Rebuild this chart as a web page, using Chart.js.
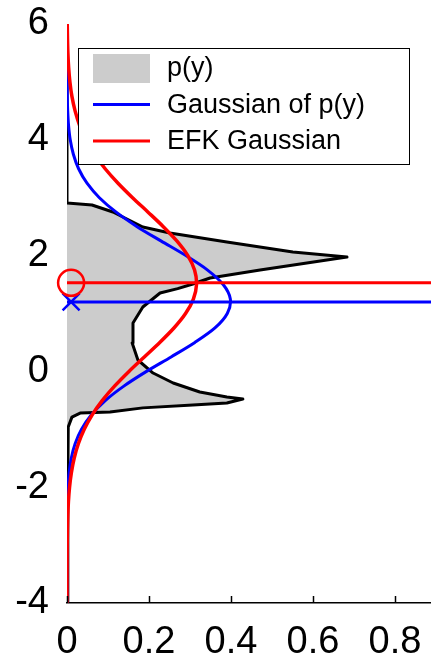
<!DOCTYPE html>
<html>
<head>
<meta charset="utf-8">
<script src="https://cdn.jsdelivr.net/npm/chart.js@4.4.1/dist/chart.umd.min.js"></script>
<style>
  html, body { margin: 0; padding: 0; background: #fff; }
  #wrap { width: 431px; height: 663px; }
</style>
</head>
<body>
<div id="wrap"><canvas id="densityChart"></canvas></div>
<script>
// y values where the gaussians were sampled
const yGrid = [-4, -3.75, -3.5, -3.25, -3, -2.75, -2.5, -2.25, -2, -1.75, -1.5, -1.25, -1, -0.75, -0.5, -0.25,
  0, 0.25, 0.5, 0.75, 1, 1.25, 1.5, 1.75, 2, 2.25, 2.5, 2.75, 3, 3.25, 3.5, 3.75, 4, 4.25, 4.5, 4.75, 5, 5.25, 5.5, 5.75, 6];

// blue: Gaussian of p(y)
const gaussOfP = [0, 0, 0, 0.00002, 0.00006, 0.00016, 0.0004, 0.001, 0.0024, 0.0051, 0.0104, 0.0198, 0.0355, 0.0596, 0.094, 0.1395,
  0.194, 0.254, 0.312, 0.361, 0.391, 0.3985, 0.381, 0.343, 0.29, 0.23, 0.171, 0.12, 0.079, 0.0488, 0.0283, 0.0155, 0.0079, 0.0038, 0.0017, 0.0007, 0.0003, 0.0001, 0, 0, 0];

// red: EFK Gaussian
const gaussEFK = [0.00002, 0.00005, 0.00011, 0.00024, 0.00049, 0.001, 0.0019, 0.0035, 0.0062, 0.0107, 0.0175, 0.0277, 0.0421, 0.0615, 0.0863, 0.1165,
  0.1512, 0.1886, 0.2263, 0.2609, 0.2892, 0.3083, 0.316, 0.3112, 0.2948, 0.2684, 0.2349, 0.1978, 0.1599, 0.1245, 0.0931, 0.0669, 0.0463, 0.0307, 0.0197, 0.012, 0.0071, 0.004, 0.0022, 0.0012, 0.0006];

// p(y) outline, bottom to top
const pY = [-4, -2, -0.96, -0.79, -0.72, -0.7, -0.63, -0.58, -0.546, -0.477, -0.442, -0.356, -0.2, -0.028, 0.197, 0.491, 0.836, 1.112, 1.354,
  1.43, 1.51, 1.613, 1.751, 1.924, 1.976, 2.062, 2.235, 2.39, 2.494, 2.753, 2.874, 2.908, 6];
const pX = [0, 0.002, 0.003, 0.012, 0.032, 0.105, 0.185, 0.307, 0.39, 0.429, 0.39, 0.324, 0.259, 0.21, 0.173, 0.159, 0.161, 0.185, 0.227,
  0.27, 0.307, 0.349, 0.471, 0.634, 0.683, 0.551, 0.39, 0.251, 0.185, 0.112, 0.061, 0, 0];

// means (horizontal lines + markers)
const meanP = 1.2;
const meanEFK = 1.53;
const markerX = 0.01;

const xMin = 0, xMax = 0.888;
const yMin = -4, yMax = 6;

const legendItems = ['p(y)', 'Gaussian of p(y)', 'EFK Gaussian'];

const FONT = '"Liberation Sans", Arial, Helvetica, sans-serif';

function zip(xs, ys) {
  return xs.map((x, i) => ({ x: x, y: ys[i] }));
}

// kleine Ticks nach innen auf der x-Achse
const innerTicks = {
  id: 'innerTicks',
  afterDraw(chart) {
    const ctx = chart.ctx;
    const xs = chart.scales.x;
    const bottom = chart.chartArea.bottom;
    ctx.save();
    ctx.strokeStyle = '#000';
    ctx.lineWidth = 1.5;
    xs.ticks.forEach(t => {
      const px = Math.round(xs.getPixelForValue(t.value)) + 0.5;
      ctx.beginPath();
      ctx.moveTo(px, bottom);
      ctx.lineTo(px, bottom - 7);
      ctx.stroke();
    });
    ctx.restore();
  }
};

// Legende im Plot (Kasten mit weissem Hintergrund)
const boxLegend = {
  id: 'boxLegend',
  afterDraw(chart) {
    const ctx = chart.ctx;
    const left = 78, top = 48, w = 331, h = 116;
    ctx.save();
    ctx.fillStyle = '#fff';
    ctx.fillRect(left, top, w, h);
    ctx.strokeStyle = '#000';
    ctx.lineWidth = 1;
    ctx.strokeRect(left + 0.5, top + 0.5, w, h);

    const rows = [68, 104.5, 141];
    // p(y) patch
    ctx.fillStyle = '#cccccc';
    ctx.fillRect(93, 54, 57, 29);
    // lines
    ctx.lineWidth = 3;
    ctx.strokeStyle = '#0000ff';
    ctx.beginPath(); ctx.moveTo(93, rows[1]); ctx.lineTo(150, rows[1]); ctx.stroke();
    ctx.strokeStyle = '#ff0000';
    ctx.beginPath(); ctx.moveTo(93, rows[2]); ctx.lineTo(150, rows[2]); ctx.stroke();

    ctx.fillStyle = '#000';
    ctx.font = '27px ' + FONT;
    ctx.textBaseline = 'middle';
    ctx.textAlign = 'left';
    legendItems.forEach((txt, i) => ctx.fillText(txt, 167, rows[i] + 1));
    ctx.restore();
  }
};

const ctx = document.getElementById('densityChart').getContext('2d');

new Chart(ctx, {
  type: 'scatter',
  data: {
    datasets: [
      {
        label: 'marker EFK',
        data: [{ x: markerX, y: meanEFK }],
        pointStyle: 'circle',
        pointRadius: 13,
        pointBorderWidth: 2.5,
        pointBorderColor: '#ff0000',
        pointBackgroundColor: 'rgba(0,0,0,0)',
        clip: false,
        order: 0
      },
      {
        label: 'marker p',
        data: [{ x: markerX, y: meanP }],
        pointStyle: 'crossRot',
        pointRadius: 12,
        pointBorderWidth: 2.5,
        pointBorderColor: '#0000ff',
        clip: false,
        order: 1
      },
      {
        label: 'mean EFK',
        data: [{ x: xMin, y: meanEFK }, { x: xMax, y: meanEFK }],
        showLine: true,
        borderColor: '#ff0000',
        borderWidth: 3,
        pointRadius: 0,
        order: 2
      },
      {
        label: 'mean p',
        data: [{ x: xMin, y: meanP }, { x: xMax, y: meanP }],
        showLine: true,
        borderColor: '#0000ff',
        borderWidth: 3,
        pointRadius: 0,
        order: 3
      },
      {
        label: 'EFK Gaussian',
        data: zip(gaussEFK, yGrid),
        showLine: true,
        borderColor: '#ff0000',
        borderWidth: 3.5,
        pointRadius: 0,
        tension: 0.3,
        order: 4
      },
      {
        label: 'Gaussian of p(y)',
        data: zip(gaussOfP, yGrid),
        showLine: true,
        borderColor: '#0000ff',
        borderWidth: 3,
        pointRadius: 0,
        tension: 0.3,
        order: 5
      },
      {
        label: 'p(y)',
        data: zip(pX, pY),
        showLine: true,
        fill: 'shape',
        backgroundColor: '#cccccc',
        borderColor: '#000000',
        borderWidth: 3,
        borderJoinStyle: 'round',
        pointRadius: 0,
        tension: 0,
        order: 6
      }
    ]
  },
  options: {
    responsive: true,
    maintainAspectRatio: false,
    animation: false,
    layout: { autoPadding: false, padding: { top: 24, right: 0, left: 0, bottom: 0 } },
    plugins: {
      legend: { display: false },
      tooltip: { enabled: false }
    },
    scales: {
      x: {
        type: 'linear',
        min: xMin,
        max: xMax,
        afterFit: s => { s.height = 60; s.paddingLeft = 0; s.paddingRight = 0; },
        border: { display: true, color: '#000', width: 1.5 },
        grid: { display: false, drawTicks: false },
        ticks: {
          stepSize: 0.2,
          includeBounds: false,
          padding: 17,
          color: '#000',
          font: { family: FONT, size: 38 },
          callback: v => String(Math.round(v * 10) / 10)
        }
      },
      y: {
        type: 'linear',
        min: yMin,
        max: yMax,
        afterFit: s => { s.width = 67; s.paddingTop = 0; s.paddingBottom = 0; },
        border: { display: false },
        grid: { display: false, drawTicks: false },
        ticks: {
          stepSize: 2,
          padding: 18,
          color: '#000',
          font: { family: FONT, size: 38 }
        }
      }
    }
  },
  plugins: [innerTicks, boxLegend]
});
</script>
</body>
</html>
